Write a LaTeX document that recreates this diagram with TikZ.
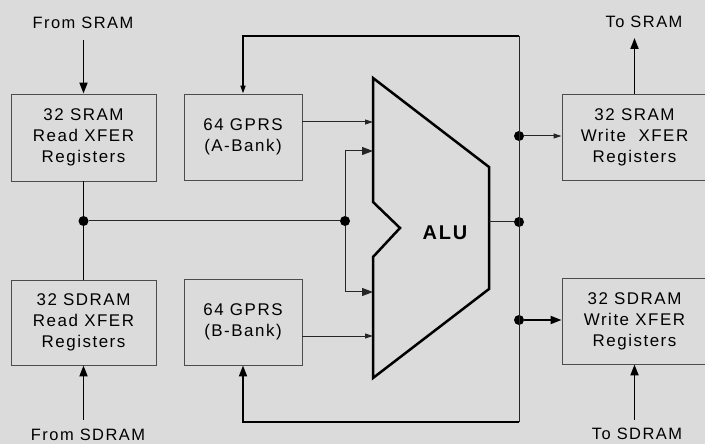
\documentclass[tikz,border=0pt]{standalone}
\usepackage{fontspec}
\setmainfont{Liberation Sans}[LetterSpace=9]
\usetikzlibrary{arrows.meta}
\begin{document}
\begin{tikzpicture}[x=1bp,y=-1bp,
  box/.style={draw=black!70, line width=0.9bp, inner sep=0pt, align=center,
    font=\fontsize{17}{21}\selectfont},
  lbl/.style={inner sep=0pt, font=\fontsize{16.5}{20}\selectfont},
  thickline/.style={line width=1.8bp, black},
  thinline/.style={line width=1bp, black!85},
  tip/.style={-{Triangle[length=11bp,width=8bp]}},
  smalltip/.style={-{Triangle[length=8bp,width=5bp]}},
  dot/.style={circle, fill=black, inner sep=0pt, minimum size=10bp},
]
\clip (0,0) rectangle (705,444);
\fill[black!14] (0,0) rectangle (705,444);

% boxes
\node[box, minimum width=145bp, minimum height=87bp] (sr) at (83.5,137.5) {32 SRAM\\Read XFER\\Registers};
\node[box, minimum width=145bp, minimum height=85bp] (sdr) at (83.5,322.5) {32 SDRAM\\Read XFER\\Registers};
\node[box, minimum width=118bp, minimum height=86bp] (ga) at (243,137) {64 GPRS\\(A-Bank)};
\node[box, minimum width=118bp, minimum height=86bp] (gb) at (243,322) {64 GPRS\\(B-Bank)};
\node[box, minimum width=145bp, minimum height=86bp] (sw) at (634.5,137) {32 SRAM\\Write \ XFER\\Registers};
\node[box, minimum width=145bp, minimum height=86bp] (sdw) at (634.5,321) {32 SDRAM\\Write XFER\\Registers};

% labels
\node[lbl] (l1) at (83,23) {From SRAM};
\node[lbl] (l2) at (644,22) {To SRAM};
\node[lbl] (l3) at (88,435) {From SDRAM};
\node[lbl] (l4) at (637,434) {To SDRAM};

% ALU
\draw[line width=2.5bp, line join=miter] (373,78) -- (489,167) -- (489,289) -- (373,378)
  -- (373,257) -- (400,228) -- (373,202) -- cycle;
\node[font=\bfseries\fontsize{20}{24}\selectfont, inner sep=0pt] (alu) at (445,233) {ALU};

% coordinates
\coordinate (fs) at (83.5,40);
\coordinate (fsd) at (83.5,420);
\coordinate (ts) at (634.5,38);
\coordinate (tsd) at (634.5,420);
\coordinate (rbtop) at (519,36);
\coordinate (rbbot) at (519,422);
\coordinate (aluA) at (373,122);
\coordinate (aluB) at (373,336);
\coordinate (aluT) at (373,151);
\coordinate (aluBt) at (373,292);
\coordinate (aluO) at (489,222);

% dots
\node[dot] (d1) at (83.5,221) {};
\node[dot] (d2) at (345,221) {};
\node[dot] (d3) at (519,222) {};
\node[dot] (d4) at (519,136) {};
\node[dot] (d5) at (519,320) {};

% connectors
\draw[thickline,tip] (fs) -- (sr.north);
\draw[thickline,tip] (fsd) -- (sdr.south);
\draw[thickline] (sr.south) -- (d1) -- (sdr.north);
\draw[thinline] (d1) -- (d2);
\draw[thinline,tip] (d2) |- (aluT);
\draw[thinline,tip] (d2) |- (aluBt);
\draw[thinline,smalltip] (ga.east |- aluA) -- (aluA);
\draw[thinline,smalltip] (gb.east |- aluB) -- (aluB);
\draw[thinline] (rbtop) -- (rbbot);
\draw[thickline,smalltip] (rbtop) -| (ga.north);
\draw[thickline,tip] (rbbot) -| (gb.south);
\draw[thinline] (aluO) -- (d3);
\draw[thinline,smalltip] (d4) -- (sw.west |- d4);
\draw[thickline,tip] (d5) -- (sdw.west |- d5);
\draw[thickline,tip] (sw.north) -- (ts);
\draw[thickline,tip] (tsd) -- (sdw.south);
\end{tikzpicture}
\end{document}
